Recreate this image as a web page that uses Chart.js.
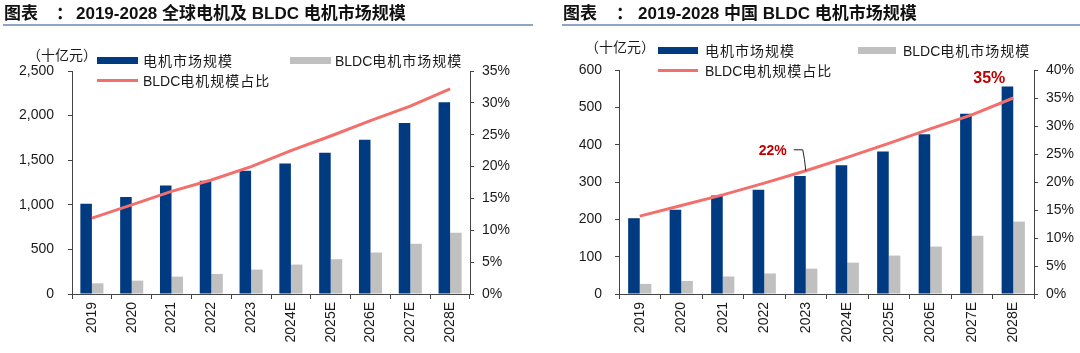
<!DOCTYPE html>
<html>
<head>
<meta charset="utf-8">
<script src="https://cdn.jsdelivr.net/npm/chart.js@4"></script>
<style>
  body { margin: 0; background: #fff; }
  #wrap { position: relative; width: 1080px; height: 353px; overflow: hidden; font-family: "Liberation Sans", Arial, "Noto Sans CJK SC", sans-serif; color: #1a1a1a; }
  canvas { position: absolute; top: 0; }
  .t { position: absolute; white-space: nowrap; font-weight: bold; font-size: 17px; line-height: 20px; top: 4px; color: #111; }
  .rule { position: absolute; top: 24px; height: 2px; background: #8fa6c4; }
  .lg { position: absolute; white-space: nowrap; font-size: 14px; line-height: 16px; }
  .lg i { font-style: normal; letter-spacing: 1px; }
  .unit { position: absolute; white-space: nowrap; font-size: 14px; line-height: 16px; }
  .sw { position: absolute; height: 7px; }
  .ln { position: absolute; height: 3px; background: #f26f6c; }
</style>
</head>
<body>
<div id="wrap">
  <canvas id="c1" width="540" height="353" style="left:0"></canvas>
  <canvas id="c2" width="540" height="353" style="left:540px"></canvas>

  <div class="t" style="left:4px">图表</div>
  <div class="t" style="left:56px">：</div>
  <div class="t" style="left:76px">2019-2028 全球电机及 BLDC 电机市场规模</div>
  <div class="rule" style="left:3px;width:530px"></div>

  <div class="t" style="left:563px">图表</div>
  <div class="t" style="left:616px">：</div>
  <div class="t" style="left:638px">2019-2028 中国 BLDC 电机市场规模</div>
  <div class="rule" style="left:562px;width:518px"></div>

  <div class="unit" style="left:27px;top:47px">（十亿元）</div>
  <div class="sw" style="left:97px;top:57px;width:41px;background:#003a80"></div>
  <div class="lg" style="left:143px;top:53px"><i>电机市场规模</i></div>
  <div class="sw" style="left:290px;top:57px;width:41px;background:#c0c0c0"></div>
  <div class="lg" style="left:335px;top:53px">BLDC<i>电机市场规模</i></div>
  <div class="ln" style="left:97px;top:79px;width:41px"></div>
  <div class="lg" style="left:143px;top:73px">BLDC<i>电机规模占比</i></div>

  <div class="unit" style="left:585px;top:39px">（十亿元）</div>
  <div class="sw" style="left:658px;top:47px;width:40px;background:#003a80"></div>
  <div class="lg" style="left:705px;top:43px"><i>电机市场规模</i></div>
  <div class="sw" style="left:858px;top:47px;width:38px;background:#c0c0c0"></div>
  <div class="lg" style="left:903px;top:43px">BLDC<i>电机市场规模</i></div>
  <div class="ln" style="left:658px;top:69px;width:40px"></div>
  <div class="lg" style="left:705px;top:63px">BLDC<i>电机规模占比</i></div>
</div>
<script>
var years = ['2019', '2020', '2021', '2022', '2023', '2024E', '2025E', '2026E', '2027E', '2028E'];

// 全球 (十亿元)
var globalMotor = [1013, 1088, 1216, 1270, 1381, 1463, 1583, 1730, 1917, 2150];
var globalBldc = [120, 150, 195, 225, 274, 330, 390, 465, 563, 687];
var globalShare = [11.9, 14.0, 16.1, 17.9, 20.0, 22.5, 24.8, 27.2, 29.5, 32.2];

// 中国 (十亿元)
var chinaMotor = [203, 226, 264, 279, 316, 345, 382, 428, 483, 556];
var chinaBldc = [27, 35, 47, 55, 68, 84, 103, 127, 156, 194];
var chinaShare = [13.9, 15.8, 17.7, 19.8, 22.0, 24.4, 26.9, 29.5, 32.0, 35.0];

var axisColor = '#444';
var tickFont = { family: '"Liberation Sans", Arial, sans-serif', size: 14 };

function makeChart(id, opts) {
  var ctx = document.getElementById(id).getContext('2d');

  return new Chart(ctx, {
    type: 'bar',
    data: {
      labels: years,
      datasets: [
        { label: '电机市场规模', data: opts.motor, backgroundColor: '#003a80', yAxisID: 'y', order: 2 },
        { label: 'BLDC电机市场规模', data: opts.bldc, backgroundColor: '#c0c0c0', yAxisID: 'y', order: 2 },
        { type: 'line', label: 'BLDC电机规模占比', data: opts.share, borderColor: '#f26f6c', borderWidth: 3,
          pointRadius: 0, tension: 0, fill: false, yAxisID: 'y1', order: 1 }
      ]
    },
    options: {
      responsive: false,
      animation: false,
      devicePixelRatio: 1,
      layout: { padding: { top: opts.top, left: 0, right: 0, bottom: 0 } },
      datasets: { bar: { categoryPercentage: opts.cat, barPercentage: 1 } },
      plugins: { legend: { display: false }, tooltip: { enabled: false } },
      scales: {
        x: {
          grid: { drawOnChartArea: false, color: axisColor, tickLength: 5, offset: true },
          border: { color: axisColor },
          ticks: { minRotation: 90, maxRotation: 90, autoSkip: false, padding: 3, color: '#1a1a1a', font: tickFont },
          afterFit: function(s) { s.height = opts.bottom; }
        },
        y: {
          position: 'left', min: 0, max: opts.max,
          grid: { drawOnChartArea: false, color: axisColor, tickLength: 4 },
          border: { color: axisColor },
          ticks: { stepSize: opts.step, padding: opts.lpad, color: '#1a1a1a', font: tickFont,
            callback: function(v) { return v.toLocaleString('en-US'); } },
          afterFit: function(s) { s.width = opts.left; }
        },
        y1: {
          position: 'right', min: 0, max: opts.pmax,
          grid: { drawOnChartArea: false, color: axisColor, tickLength: 4 },
          border: { color: axisColor },
          ticks: { stepSize: 5, padding: 8, color: '#1a1a1a', font: tickFont,
            callback: function(v) { return v + '%'; } },
          afterFit: function(s) { s.width = opts.right; }
        }
      }
    },
    plugins: opts.plugins || []
  });
}

// callouts on the China chart
var callouts = {
  id: 'callouts',
  afterDatasetsDraw: function(chart) {
    var c = chart.ctx,
      x = chart.scales.x,
      p = chart.scales.y1,
      px = x.getPixelForValue(4),
      py = p.getPixelForValue(chinaShare[4]),
      qx = x.getPixelForValue(9),
      qy = p.getPixelForValue(chinaShare[9]);

    c.save();
    c.strokeStyle = '#222';
    c.lineWidth = 1;
    c.beginPath();
    c.moveTo(px - 12, py - 21);
    c.lineTo(px - 3, py - 21);
    c.quadraticCurveTo(px - 1, py - 12, px, py);
    c.stroke();

    c.fillStyle = '#c00000';
    c.textBaseline = 'middle';
    c.textAlign = 'right';
    c.font = 'bold 14px "Liberation Sans", Arial, sans-serif';
    c.fillText('22%', px - 19, py - 20);
    c.textAlign = 'center';
    c.font = 'bold 16px "Liberation Sans", Arial, sans-serif';
    c.fillText('35%', qx - 24, qy - 19);
    c.restore();
  }
};

makeChart('c1', {
  motor: globalMotor, bldc: globalBldc, share: globalShare,
  max: 2500, step: 500, pmax: 35,
  top: 71, left: 72, right: 70, bottom: 59, lpad: 14, cat: 0.58
});

makeChart('c2', {
  motor: chinaMotor, bldc: chinaBldc, share: chinaShare,
  max: 600, step: 100, pmax: 40,
  top: 70, left: 79, right: 46, bottom: 59, lpad: 13, cat: 0.56,
  plugins: [callouts]
});
</script>
</body>
</html>
